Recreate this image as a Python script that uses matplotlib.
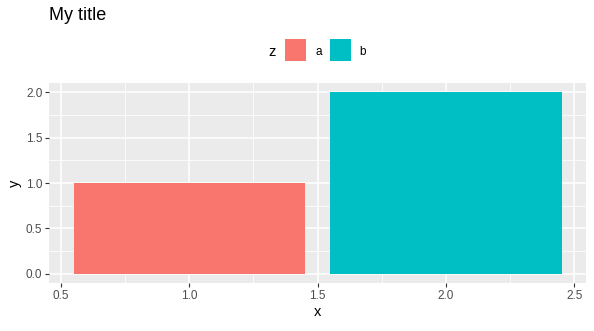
import matplotlib
matplotlib.use('Agg')
import matplotlib.pyplot as plt
from matplotlib.patches import Rectangle
from matplotlib.ticker import MultipleLocator

plt.rcParams['font.family'] = ['Liberation Sans', 'DejaVu Sans']

# data
groups = ['a', 'b']
x_vals = [1, 2]
y_vals = [1, 2]
bar_colors = ['#F8766D', '#00BFC4']
bar_width = 0.9

fig = plt.figure(figsize=(5.94, 3.31), dpi=100)
ax = fig.add_axes([49.3 / 594, 48 / 331, 536.7 / 594, 200 / 331])

ax.set_facecolor('#EBEBEB')
ax.bar(x_vals, y_vals, width=bar_width, color=bar_colors, zorder=3)

ax.set_xlim(0.455, 2.545)
ax.set_ylim(-0.1, 2.1)
ax.xaxis.set_major_locator(MultipleLocator(0.5))
ax.yaxis.set_major_locator(MultipleLocator(0.5))
ax.xaxis.set_minor_locator(MultipleLocator(0.25))
ax.yaxis.set_minor_locator(MultipleLocator(0.25))
ax.grid(which='major', color='white', linewidth=1.1, zorder=1)
ax.grid(which='minor', color='white', linewidth=0.55, zorder=1)
ax.set_axisbelow(True)
for s in ax.spines.values():
    s.set_visible(False)

ax.tick_params(which='major', length=3, width=0.8, color='#333333',
               labelsize=8.5, labelcolor='#4D4D4D', pad=2)
ax.tick_params(which='minor', length=0)
ax.xaxis.set_major_formatter(plt.FuncFormatter(lambda v, p: f'{v:.1f}'))
ax.yaxis.set_major_formatter(plt.FuncFormatter(lambda v, p: f'{v:.1f}'))

ax.set_xlabel('x', fontsize=10.5, labelpad=2)
ax.set_ylabel('y', fontsize=10.5, labelpad=3)

fig.text(49 / 594, 1 - 16 / 331, 'My title', fontsize=13, ha='left', va='center')

# legend on top
ly = 1 - 52 / 331
fig.text(268 / 594, ly, 'z', fontsize=10.5, ha='left', va='center')
key_x = [285, 330]
lab_x = [315, 359]
for g, c, kx, lx in zip(groups, bar_colors, key_x, lab_x):
    fig.patches.append(Rectangle((kx / 594, 1 - 61 / 331), 21 / 594, 22 / 331,
                                 transform=fig.transFigure, facecolor=c, edgecolor='none'))
    fig.text(lx / 594, ly, g, fontsize=8.5, ha='left', va='center')

fig.savefig('out.png', dpi=100)
